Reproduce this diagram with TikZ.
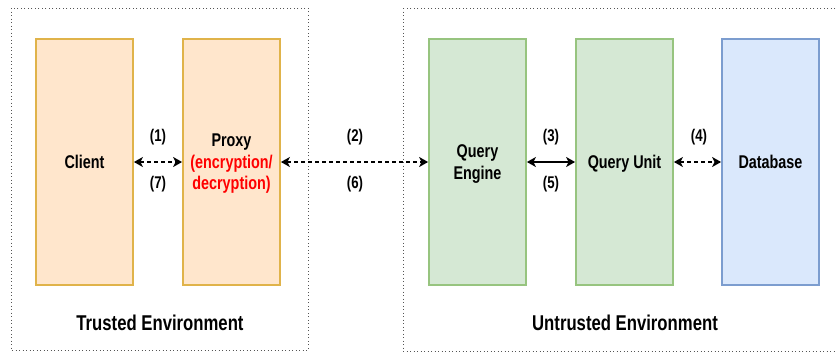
\documentclass[tikz,border=0pt]{standalone}
\usepackage{fontspec}
\setmainfont{Liberation Sans}[FakeStretch=0.78]
\usepackage{xcolor}
\usepackage{tikz}
\usetikzlibrary{arrows.meta,positioning}
\definecolor{orfill}{HTML}{FFE6CC}
\definecolor{ordraw}{HTML}{E0B34A}
\definecolor{grfill}{HTML}{D5E8D4}
\definecolor{grdraw}{HTML}{97C47F}
\definecolor{blfill}{HTML}{DAE8FC}
\definecolor{bldraw}{HTML}{7C9DCF}
\definecolor{envline}{HTML}{555555}
\tikzset{
  comp/.style={draw,line width=1.8bp,minimum width=97bp,minimum height=246bp,inner sep=0pt,align=center,text depth=0pt,font=\fontsize{18.5}{21.5}\selectfont\bfseries},
  env/.style={draw=envline,line width=1bp,dash pattern=on 1bp off 2.5bp},
  num/.style={font=\fontsize{17}{19}\selectfont\bfseries,inner sep=1bp},
  title/.style={font=\fontsize{21.5}{24}\selectfont\bfseries,inner sep=1bp},
  darr/.style={{Stealth[length=9bp,width=10bp,inset=2.5bp]}-{Stealth[length=9bp,width=10bp,inset=2.5bp]},line width=1.3bp},
  dsh/.style={dash pattern=on 4bp off 3bp},
}
\begin{document}
\begin{tikzpicture}[x=1bp,y=-1bp]
\useasboundingbox (0,0) rectangle (837,352);
% environments
\draw[env] (11,8) rectangle (308,350);
\draw[env] (403,8) rectangle (850,351);
\node[title] (trusted) at (160,323) {Trusted Environment};
\node[title] (untrusted) at (625,323) {Untrusted Environment};
% components
\node[comp,fill=orfill,draw=ordraw] (client) at (84.5,162) {Client};
\node[comp,fill=orfill,draw=ordraw] (proxy) at (231.5,162) {Proxy\\\textcolor{red}{(encryption/}\\\textcolor{red}{decryption)}};
\node[comp,fill=grfill,draw=grdraw] (engine) at (477.5,162) {Query\\Engine};
\node[comp,fill=grfill,draw=grdraw] (unit) at (624.5,162) {Query Unit};
\node[comp,fill=blfill,draw=bldraw] (db) at (770.5,162) {Database};
% connectors
\draw[darr,dsh] (client) -- (proxy);
\draw[darr,dsh] (proxy) -- (engine);
\draw[darr] (engine) -- (unit);
\draw[darr,dsh] (unit) -- (db);
\foreach \n/\x in {1/158,2/355,3/551,4/699} \node[num] (l\n) at (\x,137) {(\n)};
\foreach \n/\x in {7/158,6/355,5/551} \node[num] (l\n) at (\x,184) {(\n)};
\end{tikzpicture}
\end{document}
